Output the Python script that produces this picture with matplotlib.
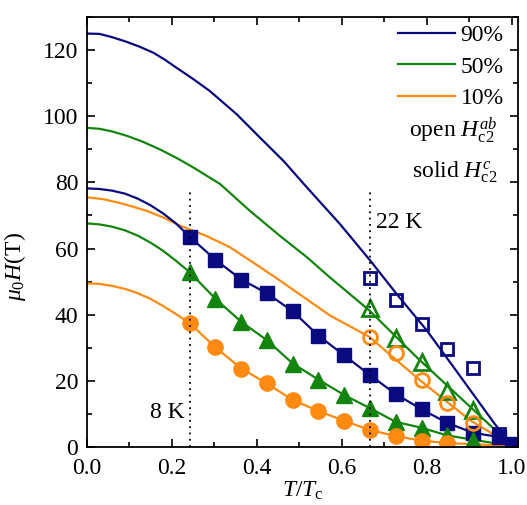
import matplotlib
matplotlib.use("Agg")
from matplotlib import pyplot as plt
from matplotlib.ticker import MultipleLocator

plt.rcParams["font.family"] = ["Liberation Serif", "DejaVu Serif"]
plt.rcParams["mathtext.fontset"] = "custom"
plt.rcParams["mathtext.rm"] = "Liberation Serif"
plt.rcParams["mathtext.it"] = "Liberation Serif:italic"
plt.rcParams["font.size"] = 17

navy = "#0a0a80"
green = "#13850f"
orange = "#ff8a12"

# temperatures of the data points, T/Tc (Tc = 33 K)
t_pts = [0.242, 0.303, 0.364, 0.424, 0.485, 0.545, 0.606, 0.667, 0.727, 0.788, 0.848, 0.909, 0.970, 1.0]
t_open = [0.667, 0.727, 0.788, 0.848, 0.909, 0.970]

# solid symbols, H_c2^c
sq_c = [63.6, 56.6, 50.6, 46.5, 41.0, 33.7, 27.7, 21.7, 16.0, 11.4, 7.3, 4.3, 3.0, 1.0]
tri_c = [52.9, 44.8, 37.8, 32.3, 25.2, 20.4, 15.7, 11.7, 7.6, 5.8, 3.5, 2.2]
circ_c = [37.5, 30.1, 23.7, 19.2, 14.2, 10.9, 7.9, 5.1, 3.3, 1.9, 1.2]

# open symbols, H_c2^ab
sq_ab = [51.0, 44.3, 37.1, 29.5, 24.0, 3.8]
tri_ab = [42.1, 33.1, 25.7, 16.9, 11.3]
circ_ab = [33.3, 28.4, 20.2, 13.2, 7.3]

# curves (ab)
x90ab = [0, 0.03, 0.06, 0.094, 0.125, 0.157, 0.185, 0.212, 0.25, 0.29, 0.353, 0.408, 0.463, 0.518,
         0.596, 0.667, 0.729, 0.8, 0.863, 0.925, 0.96, 1.0]
y90ab = [125, 124.9, 123.9, 122.5, 121.0, 119.2, 117.0, 114.6, 111.3, 107.6, 100.6, 93.5, 86.5, 78.5,
         67.4, 56.4, 46.3, 35.3, 24.2, 13.2, 7.0, 0.5]
x50ab = [0, 0.03, 0.06, 0.094, 0.13, 0.172, 0.21, 0.251, 0.314, 0.384, 0.455, 0.518, 0.572, 0.665,
         0.78, 0.902, 1.0]
y50ab = [96.5, 96.2, 95.4, 94.1, 92.4, 90.0, 87.5, 84.5, 79.5, 71.4, 63.8, 57.4, 51.3, 41.3,
         26.7, 12.2, 0.5]
x10ab = [0, 0.04, 0.08, 0.11, 0.141, 0.18, 0.22, 0.28, 0.337, 0.408, 0.455, 0.572, 0.665, 0.784, 0.902, 1.0]
y10ab = [75.5, 74.9, 73.7, 72.6, 71.4, 69.4, 66.9, 63.9, 60.4, 54.4, 50.3, 39.8, 33.3, 20.2, 8.1, 0.5]

# low-temperature part of the c curves (before the first point)
x_head = [0, 0.03, 0.06, 0.09, 0.12, 0.15, 0.18, 0.21]
y90c_head = [78.2, 78.0, 77.5, 76.6, 75.1, 73.1, 70.6, 67.6]
y50c_head = [67.6, 67.3, 66.6, 65.5, 63.9, 61.8, 59.3, 56.3]
y10c_head = [49.5, 49.3, 48.7, 47.8, 46.5, 44.8, 42.6, 40.2]

fig = plt.figure(figsize=(5.27, 5.05), dpi=100)
ax = fig.add_axes([0.1645, 0.1149, 0.8185, 0.8514])

lw = 1.6
ax.plot(x90ab, y90ab, color=navy, lw=lw)
ax.plot(x50ab, y50ab, color=green, lw=lw)
ax.plot(x10ab, y10ab, color=orange, lw=lw)

ax.plot(x_head + t_pts[:len(sq_c)], y90c_head + sq_c, color=navy, lw=lw)
ax.plot(x_head + t_pts[:len(tri_c)] + [1.0], y50c_head + tri_c + [0.3], color=green, lw=lw)
ax.plot(x_head + t_pts[:len(circ_c)] + [1.0], y10c_head + circ_c + [0.3], color=orange, lw=lw)

ax.plot(t_pts[:len(sq_c)], sq_c, "s", color=navy, ms=10, ls="none")
ax.plot(t_pts[:len(tri_c)], tri_c, "^", color=green, ms=12, ls="none")
ax.plot(t_pts[:len(circ_c)], circ_c, "o", color=orange, ms=11, ls="none")

ax.plot(t_open, sq_ab, "s", mfc="none", mec=navy, mew=2, ms=9, ls="none")
ax.plot(t_open[:len(tri_ab)], tri_ab, "^", mfc="none", mec=green, mew=2, ms=11, ls="none")
ax.plot(t_open[:len(circ_ab)], circ_ab, "o", mfc="none", mec=orange, mew=2, ms=10, ls="none")

ax.vlines([8 / 33, 22 / 33], 0, 78, colors="black", linestyles=(0, (1, 2.5)), lw=1.3)
ax.text(0.23, 10.5, "8 K", ha="right", va="center")
ax.text(0.68, 68, "22 K", ha="left", va="center")

l1, = ax.plot([], [], color=navy, lw=lw)
l2, = ax.plot([], [], color=green, lw=lw)
l3, = ax.plot([], [], color=orange, lw=lw)
ax.legend([l1, l2, l3], ["90%", "50%", "10%"], loc="upper right", bbox_to_anchor=(1.0, 1.015),
          frameon=False, handlelength=2.4, handletextpad=0.25, labelspacing=0.42, borderaxespad=0.2)
ax.text(0.967, 95.6, r"open $H_{\mathrm{c2}}^{ab}$", ha="right", va="center")
ax.text(0.967, 83.0, r"solid $H_{\mathrm{c2}}^{c}$", ha="right", va="center")

ax.set_xlim(0, 1.015)
ax.set_ylim(0, 130)
ax.xaxis.set_major_locator(MultipleLocator(0.2))
ax.xaxis.set_minor_locator(MultipleLocator(0.1))
ax.yaxis.set_major_locator(MultipleLocator(20))
ax.yaxis.set_minor_locator(MultipleLocator(10))
ax.xaxis.set_major_formatter(plt.FuncFormatter(lambda v, p: "%.1f" % v))
ax.tick_params(which="both", direction="in", top=True, right=True, width=1.2)
ax.tick_params(which="major", length=6, pad=6)
ax.tick_params(axis="x", which="major", pad=8)
ax.tick_params(which="minor", length=3.5)
for s in ax.spines.values():
    s.set_linewidth(1.3)

ax.set_xlabel(r"$T/T_{\mathrm{c}}$")
ax.set_ylabel(r"$\mu_0H$(T)")
ax.xaxis.set_label_coords(0.5, -0.075)
ax.yaxis.set_label_coords(-0.135, 0.42)

fig.savefig("out.png", dpi=100)
